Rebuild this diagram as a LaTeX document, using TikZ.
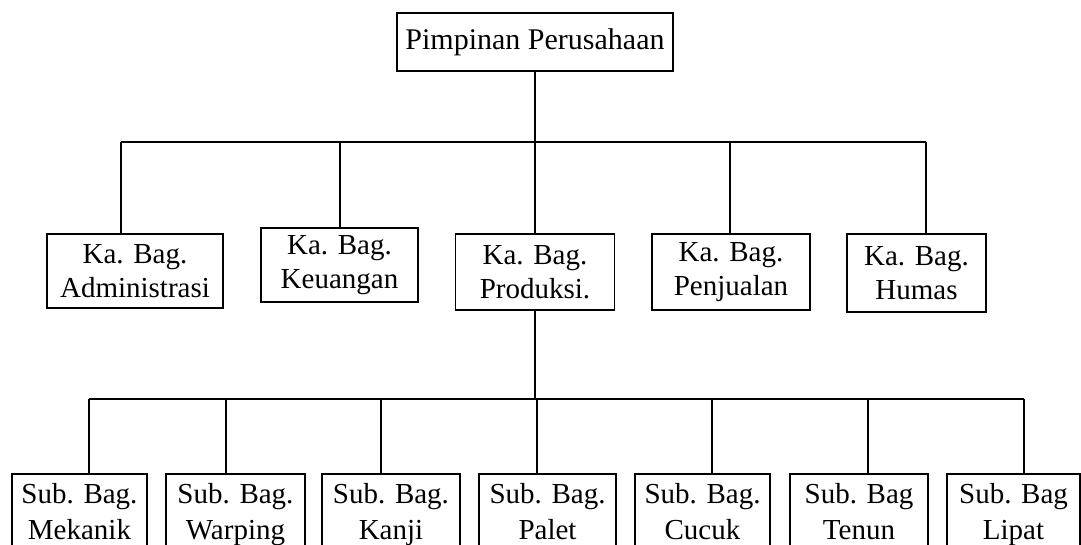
\documentclass[tikz,border=0pt]{standalone}
\usepackage{fontspec}
\setmainfont{Liberation Serif}
\begin{document}
\begin{tikzpicture}[x=1pt,y=-1pt,
  boxbase/.style={draw, line width=1.8pt, inner xsep=0pt, align=center},
  topbox/.style={boxbase, font=\fontsize{30}{34}\selectfont, inner ysep=0pt},
  kabox/.style={boxbase, font=\fontsize{29}{34}\selectfont, inner ysep=0pt},
  subbox/.style={boxbase, font=\fontsize{29}{36}\selectfont, inner ysep=9pt, anchor=north},
  conn/.style={line width=1.3pt},
  connb/.style={line width=2pt}]
\useasboundingbox (0,0) rectangle (1081,544);
\clip (0,0) rectangle (1081,544);
% top
\node[topbox, minimum width=276, minimum height=58] (top) at (535,42) {Pimpinan Perusahaan};
% level 1
\node[kabox, minimum width=176, minimum height=74] (adm) at (135,271) {Ka. Bag.\\Administrasi};
\node[kabox, minimum width=157, minimum height=74] (keu) at (339.5,265) {Ka. Bag.\\Keuangan};
\node[kabox, minimum width=159, minimum height=76] (pro) at (535,272) {Ka. Bag.\\Produksi.};
\node[kabox, minimum width=158, minimum height=76] (pen) at (731,272) {Ka. Bag.\\Penjualan};
\node[kabox, minimum width=139, minimum height=78] (hum) at (916.5,273) {Ka. Bag.\\Humas};
% level 2
\node[subbox, minimum width=135] (mek) at (79.5,473) {Sub. Bag.\\Mekanik};
\node[subbox, minimum width=139] (war) at (235.5,473) {Sub. Bag.\\Warping};
\node[subbox, minimum width=138] (kan) at (391,473) {Sub. Bag.\\Kanji};
\node[subbox, minimum width=137] (pal) at (547.5,473) {Sub. Bag.\\Palet};
\node[subbox, minimum width=135] (cuc) at (702.5,473) {Sub. Bag.\\Cucuk};
\node[subbox, minimum width=138] (ten) at (859,473) {Sub. Bag\\Tenun};
\node[subbox, minimum width=133] (lip) at (1013.5,473) {Sub. Bag\\Lipat};
% bus coordinates
\coordinate (dadm) at (121,142);
\coordinate (dkeu) at (340,142);
\coordinate (dpen) at (730,142);
\coordinate (dhum) at (926,142);
\coordinate (dmek) at (89,399);
\coordinate (dwar) at (226,399);
\coordinate (dkan) at (381,399);
\coordinate (dpal) at (537,399);
\coordinate (dcuc) at (712,399);
\coordinate (dten) at (868,399);
\coordinate (dlip) at (1024,399);
% level 1 connectors
\draw[conn] (top.south) -- (pro.north);
\draw[conn] (dadm) -- (dhum);
\draw[conn] (dadm) -- (dadm |- adm.north);
\draw[conn] (dkeu) -- (dkeu |- keu.north);
\draw[conn] (dpen) -- (dpen |- pen.north);
\draw[conn] (dhum) -- (dhum |- hum.north);
% level 2 connectors
\draw[conn] (pro.south) -- (pro.south |- dmek);
\draw[connb] (dmek) -- (dlip);
\draw[connb] (dmek) -- (dmek |- mek.north);
\draw[connb] (dwar) -- (dwar |- war.north);
\draw[connb] (dkan) -- (dkan |- kan.north);
\draw[connb] (dpal) -- (dpal |- pal.north);
\draw[connb] (dcuc) -- (dcuc |- cuc.north);
\draw[connb] (dten) -- (dten |- ten.north);
\draw[connb] (dlip) -- (dlip |- lip.north);
\end{tikzpicture}
\end{document}
